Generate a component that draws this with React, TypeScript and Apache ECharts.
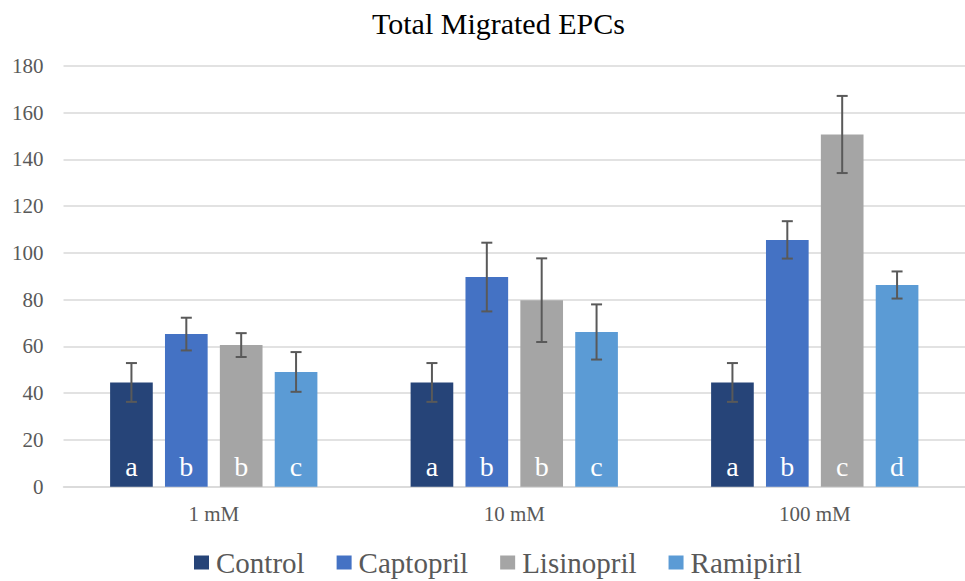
import React, { useEffect, useRef } from "react";
import * as echarts from "echarts";

const categories = ["1 mM", "10 mM", "100 mM"];
const seriesNames = ["Control", "Captopril", "Lisinopril", "Ramipiril"];
const controlValues = [44.6, 44.6, 44.6];
const captoprilValues = [65.3, 89.7, 105.6];
const lisinoprilValues = [60.6, 79.8, 150.7];
const ramipirilValues = [49.1, 66.2, 86.3];
const controlErrors = [8.3, 8.3, 8.3];
const captoprilErrors = [7.0, 14.7, 8.0];
const lisinoprilErrors = [5.1, 17.9, 16.5];
const ramipirilErrors = [8.5, 11.8, 5.8];
const controlLetters = ["a", "a", "a"];
const captoprilLetters = ["b", "b", "b"];
const lisinoprilLetters = ["b", "b", "c"];
const ramipirilLetters = ["c", "c", "d"];
const yTicks = { min: 0, max: 180, interval: 20 };

const colors = ["#264478", "#4472C4", "#A5A5A5", "#5B9BD5"];
const SERIF = "'Liberation Serif', 'Times New Roman', serif";

export default function App() {
  const ref = useRef<HTMLDivElement>(null);
  useEffect(() => {
    if (!ref.current) return;
    const chart = echarts.init(ref.current, undefined, { renderer: "svg" });
    const values = [controlValues, captoprilValues, lisinoprilValues, ramipirilValues];
    const errors = [controlErrors, captoprilErrors, lisinoprilErrors, ramipirilErrors];
    const letters = [controlLetters, captoprilLetters, lisinoprilLetters, ramipirilLetters];
    const barWidthFrac = 0.142;
    const barGapFrac = 0.286;
    const n = seriesNames.length;

    const barSeries = seriesNames.map((name, si) => ({
      name,
      type: "bar",
      data: values[si].map((v) => v),
      barWidth: barWidthFrac * 100 + "%",
      barGap: barGapFrac * 100 + "%",
      itemStyle: { color: colors[si] },
      label: {
        show: true,
        position: "insideBottom",
        distance: 6,
        color: "#ffffff",
        fontFamily: SERIF,
        fontSize: 28,
        formatter: (p: any) => letters[si][p.dataIndex],
      },
      z: 2,
    }));

    const errSeries = seriesNames.map((name, si) => ({
      name,
      type: "custom",
      data: values[si].map((v, ci) => [ci, v, errors[si][ci]]),
      z: 5,
      silent: true,
      renderItem: (params: any, api: any) => {
        const ci = api.value(0);
        const v = api.value(1);
        const e = api.value(2);
        const band = api.size([1, 0])[0];
        const step = band * barWidthFrac * (1 + barGapFrac);
        const off = (si - (n - 1) / 2) * step;
        const top = api.coord([ci, v + e]);
        const bot = api.coord([ci, v - e]);
        const x = top[0] + off;
        const half = 5.5;
        const style = { stroke: "#595959", lineWidth: 2 };
        return {
          type: "group",
          children: [
            { type: "line", shape: { x1: x, y1: top[1], x2: x, y2: bot[1] }, style },
            { type: "line", shape: { x1: x - half, y1: top[1], x2: x + half, y2: top[1] }, style },
            { type: "line", shape: { x1: x - half, y1: bot[1], x2: x + half, y2: bot[1] }, style },
          ],
        };
      },
    }));

    chart.setOption({
      animation: false,
      color: colors,
      title: {
        text: "Total Migrated EPCs",
        left: 367,
        top: 3,
        textStyle: { fontFamily: SERIF, fontSize: 30, fontWeight: "normal", color: "#000000" },
      },
      legend: {
        data: seriesNames,
        left: 189,
        top: 543,
        itemWidth: 15,
        itemHeight: 14,
        itemGap: 32,
        icon: "rect",
        textStyle: { fontFamily: SERIF, fontSize: 29, color: "#595959", padding: [0, 0, 0, 2] },
      },
      grid: { left: 63.5, top: 66, width: 909, height: 420.7, containLabel: false },
      xAxis: {
        type: "category",
        data: categories,
        axisLine: { lineStyle: { color: "#d9d9d9", width: 1.5 } },
        axisTick: { show: false },
        axisLabel: { fontFamily: SERIF, fontSize: 21, color: "#595959", margin: 17 },
      },
      yAxis: {
        type: "value",
        min: yTicks.min,
        max: yTicks.max,
        interval: yTicks.interval,
        axisLine: { show: false },
        axisTick: { show: false },
        axisLabel: { fontFamily: SERIF, fontSize: 21, color: "#595959", margin: 20 },
        splitLine: { lineStyle: { color: "#d9d9d9", width: 1.5 } },
      },
      series: [...barSeries, ...errSeries],
    });
    return () => chart.dispose();
  }, []);
  return (
    <div
      ref={ref}
      style={{ position: "fixed", left: 0, top: 0, width: 965, height: 581, background: "#ffffff" }}
    />
  );
}
